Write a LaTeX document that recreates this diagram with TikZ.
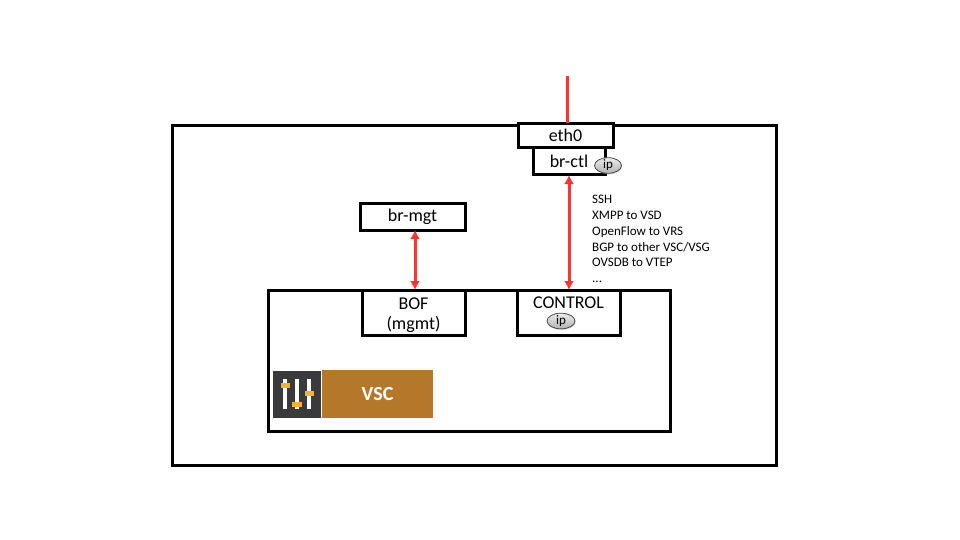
\documentclass[tikz,border=0pt]{standalone}
\usepackage{fontspec}
\setmainfont{Carlito}
\usetikzlibrary{arrows.meta,shadows,shapes.geometric}
\definecolor{linkred}{HTML}{FF3333}
\definecolor{vscbrown}{HTML}{B5782B}
\definecolor{icongrey}{HTML}{3A3A3C}
\definecolor{knobyellow}{HTML}{FBB12D}
\tikzset{box/.style={draw,line width=3pt,fill=white,outer sep=0pt,inner sep=0pt,font=\fontsize{18}{20}\selectfont,align=center},
  link/.style={draw=linkred,line width=3pt},
  biglink/.style={link,{Latex[length=9pt,width=10pt]}-{Latex[length=9pt,width=10pt]}},
  ipbadge/.style={ellipse,draw=black!70,line width=0.8pt,top color=black!8,bottom color=black!30,
    drop shadow={shadow xshift=0.5pt,shadow yshift=-1pt,opacity=0.4},minimum width=#1,minimum height=15pt,inner sep=0pt,font=\fontsize{13}{14}\selectfont},
  bar/.style={fill=white,draw=none},
  knob/.style={fill=knobyellow,draw=none}}
\newcommand{\boxat}[6]{\node[box,minimum width=#3 pt,minimum height=#4 pt] (#5) at (#1,#2) {#6}}
\newcommand{\slider}[4]{%
  \fill[bar] (#1-2.2,379) rectangle (#1+2.2,409);
  \fill[knob] (#1-#3,#2) rectangle (#1+#3,#4)}

\begin{document}
\begin{tikzpicture}[x=1pt,y=-1pt]
  \useasboundingbox (0,0) rectangle (960,540);

  \boxat{474}{295.5}{604}{339}{host}{};
  \boxat{469}{360.5}{402}{141}{vsc}{};

  \boxat{569}{161.5}{72}{27}{brctl}{br-ctl};
  \boxat{565.5}{135.5}{95}{24}{eth0}{eth0};
  \boxat{412.5}{216.5}{105}{27}{brmgt}{br-mgt};
  \boxat{413.5}{312.5}{103}{45}{bof}{\rule{0pt}{18pt}BOF\\(mgmt)};
  \boxat{568.5}{312.5}{103}{45}{control}{\rule{0pt}{18pt}CONTROL\\\strut};

  \node[ipbadge=27pt] (ipctl) at (608,165.5) {ip};
  \node[ipbadge=28pt] (ipcontrol) at (561,321) {ip};

  \coordinate (uplink) at (567.5,76);
  \draw[link] (uplink) -- (uplink |- eth0.north);
  \draw[biglink] (brctl.south) -- (brctl.south |- control.north);
  \draw[biglink] ([xshift=2.5pt]brmgt.south) -- ([xshift=1.5pt]bof.north);

  \node[anchor=north west,inner sep=0pt,align=left,font=\fontsize{13}{15.8}\selectfont] (protocols) at (592,195)
    {SSH\\XMPP to VSD\\OpenFlow to VRS\\BGP to other VSC/VSG\\OVSDB to VTEP\\...};

  \node[fill=icongrey,minimum width=48pt,minimum height=47pt,inner sep=0pt,outer sep=0pt] (icon) at (297,394.5) {};
  \slider{285}{382.5}{4.5}{387.5};
  \slider{297}{401.5}{5}{406.5};
  \slider{309}{390.5}{4.5}{395.5};

  \node[fill=vscbrown,text=white,minimum width=111pt,minimum height=48pt,inner sep=0pt,outer sep=0pt,font=\fontsize{20}{22}\selectfont\bfseries] (vsclabel) at (377.5,394) {VSC};
\end{tikzpicture}
\end{document}
